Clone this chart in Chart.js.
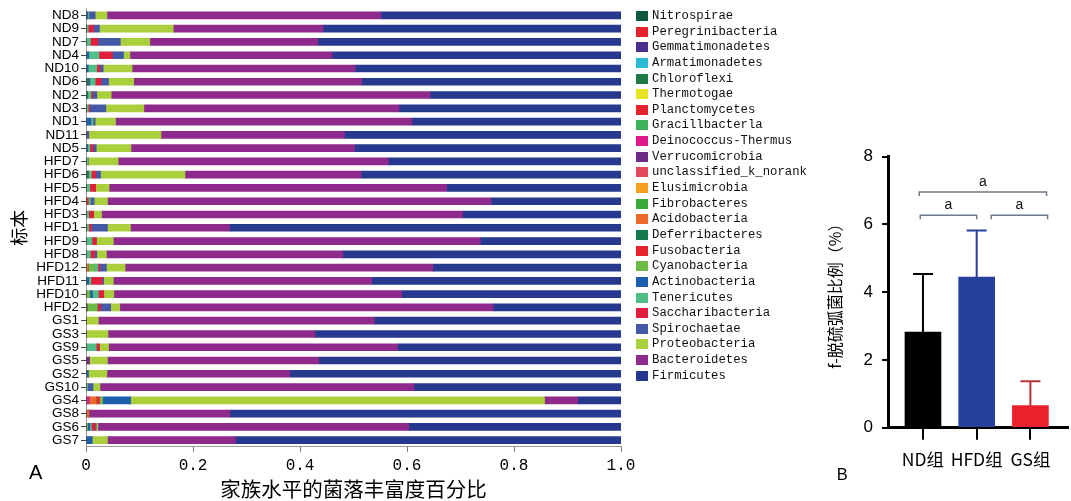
<!DOCTYPE html>
<html>
<head>
<meta charset="utf-8">
<script src="https://cdn.jsdelivr.net/npm/chart.js@4.4.1/dist/chart.umd.min.js"></script>
<style>
  html, body { margin: 0; padding: 0; background: #fff; }
  #wrap { position: relative; width: 1071px; height: 501px; overflow: hidden; background: #fff; }
  #canvasA { position: absolute; left: 0; top: 0; }
  #canvasB { position: absolute; left: 820px; top: 0; }
  #legendA { position: absolute; left: 636px; top: 8.2px; margin: 0; padding: 0; list-style: none;
             font: 12.3px "Liberation Mono", "DejaVu Sans Mono", monospace; color: #111; }
  #legendA li { height: 15.65px; display: flex; align-items: center; white-space: pre; }
  #legendA .sw { display: inline-block; width: 12px; height: 10px; margin-right: 4px; }
  .panel { position: absolute; font-family: "Liberation Sans", Arial, sans-serif; color: #000; margin: 0; }
  #panelA { left: 29px; top: 462.4px; font-size: 20px; line-height: 20px; }
  #panelB { left: 836.7px; top: 466px; font-size: 16.5px; line-height: 16.5px; }
</style>
</head>
<body>
<div id="wrap">
  <canvas id="canvasA" width="820" height="501"></canvas>
  <canvas id="canvasB" width="251" height="501"></canvas>
  <ul id="legendA"></ul>
  <div class="panel" id="panelA">A</div>
  <div class="panel" id="panelB">B</div>
</div>
<script>
// ---------- Panel A: phylum-level relative abundance per sample ----------
const samples = ['ND8','ND9','ND7','ND4','ND10','ND6','ND2','ND3','ND1','ND11','ND5',
  'HFD7','HFD6','HFD5','HFD4','HFD3','HFD1','HFD9','HFD8','HFD12','HFD11','HFD10','HFD2',
  'GS1','GS3','GS9','GS5','GS2','GS10','GS4','GS8','GS6','GS7'];

const phylumNames = ['Nitrospirae','Peregrinibacteria','Gemmatimonadetes','Armatimonadetes',
  'Chloroflexi','Thermotogae','Planctomycetes','Gracillbacterla','Deinococcus-Thermus',
  'Verrucomicrobia','unclassified_k_norank','Elusimicrobia','Fibrobacteres','Acidobacteria',
  'Deferribacteres','Fusobacteria','Cyanobacteria','Actinobacteria','Tenericutes',
  'Saccharibacteria','Spirochaetae','Proteobacteria','Bacteroidetes','Firmicutes'];

const phylumColors = ['#0c5a3b','#e3222b','#4a2f8f','#2bbad3','#1d7a46','#e6e425','#e4242c',
  '#3bb15c','#df1a8b','#6b2b86','#e24a5c','#f3a11f','#3aa93b','#ec6b2b','#11794a','#e6232d',
  '#6dbb46','#1b5ead','#4fbf86','#e11f3c','#4458a8','#a9cf3a','#8f2a8d','#26398e'];

const xTickLabels = ['0','0.2','0.4','0.6','0.8','1.0'];

// one value per sample, in the order of `samples`
const nitrospirae        = [0,0,0,0,0,0,0,0,0,0,0, 0,0,0,0,0,0,0,0,0,0,0,0, 0,0,0,0,0,0,0,0,0,0];
const peregrinibacteria  = [0,0,0,0,0,0,0,0,0,0,0, 0,0,0,0,0,0,0,0,0,0,0,0, 0,0,0,0,0,0,0,0,0,0];
const gemmatimonadetes   = [0,0,0,0,0,0,0,0,0,0,0, 0,0,0,0,0,0,0,0,0,0,0,0, 0,0,0,0,0,0,0,0,0,0];
const armatimonadetes    = [0,0,0,0,0,0,0,0,0,0,0, 0,0,0,0,0,0,0,0,0,0,0,0, 0,0,0,0,0,0,0,0,0,0];
const chloroflexi        = [0,0,0,0,0,0,0,0,0,0,0, 0,0,0,0,0,0,0,0,0,0,0,0, 0,0,0,0,0,0,0,0,0,0];
const thermotogae        = [0,0,0,0,0,0,0,0,0,0,0, 0,0,0,0,0,0,0,0,0,0,0,0, 0,0,0,0,0,0,0,0,0,0];
const planctomycetes     = [0,0,0,0,0,0,0,0,0,0,0, 0,0,0,0,0,0,0,0,0,0,0,0, 0,0,0,0,0,0,0,0,0,0];
const gracillbacterla    = [0,0,0,0,0,0,0,0,0,0,0, 0,0,0,0,0,0,0,0,0,0,0,0, 0,0,0,0,0,0,0,0,0,0];
const deinococcus        = [0,0,0,0,0,0,0,0,0,0,0, 0,0,0,0,0,0,0,0,0,0,0,0, 0,0,0,0,0,0,0.004,0,0,0];
const verrucomicrobia    = [0,0,0,0,0,0,0,0,0,0,0, 0,0,0,0,0,0,0,0,0,0,0,0, 0,0,0,0.006,0,0,0,0,0,0];
const unclassifiedNorank = [0,0,0,0,0,0,0,0,0,0,0, 0,0,0,0,0,0,0,0,0,0,0,0, 0,0,0,0,0,0,0.004,0,0,0];
const elusimicrobia      = [0,0,0,0,0,0,0,0,0,0,0, 0,0,0,0,0,0,0,0,0,0,0,0, 0,0,0,0,0,0,0,0,0,0];
const fibrobacteres      = [0,0,0,0,0,0,0,0,0,0,0, 0,0,0,0,0,0,0,0,0,0,0,0, 0,0,0,0,0,0,0,0,0,0];
const acidobacteria      = [0,0,0,0,0,0,0,0,0,0,0, 0,0,0,0,0,0,0,0,0.004,0,0,0, 0,0,0,0,0,0,0.011,0.005,0,0];
const deferribacteres    = [0,0,0,0,0,0.004,0.003,0,0,0,0, 0,0.004,0,0,0,0,0,0,0,0,0,0.002, 0,0,0,0,0,0,0,0,0,0];
const fusobacteria       = [0,0,0,0,0,0,0,0,0,0,0, 0,0,0,0.004,0,0,0,0,0,0,0,0, 0,0,0,0,0,0,0.006,0,0,0];
const cyanobacteria      = [0,0,0,0,0,0,0,0,0,0,0, 0,0,0,0,0,0,0,0,0.012,0,0.007,0.019, 0,0,0,0,0,0,0.006,0,0.003,0];
const actinobacteria     = [0.003,0,0,0.005,0.004,0.003,0,0,0.009,0,0.003, 0,0,0,0,0,0,0,0,0,0.005,0.005,0,
                            0,0,0,0,0.004,0,0.052,0,0.004,0.011];
const tenericutes        = [0.002,0.004,0.008,0.019,0.016,0.010,0.006,0.004,0.004,0,0.004,
                            0.004,0.006,0.007,0.004,0.005,0.005,0.011,0.008,0.006,0.004,0.011,0,
                            0,0,0.019,0,0,0.003,0,0,0.003,0];
const saccharibacteria   = [0,0.010,0.014,0.025,0.006,0.011,0.003,0.003,0,0,0.006,
                            0,0.008,0.011,0,0.009,0.005,0.008,0.008,0.004,0.021,0.010,0.006,
                            0,0,0.006,0,0,0,0,0,0.007,0];
const spirochaetae       = [0.012,0.011,0.042,0.021,0.006,0.014,0.008,0.030,0.004,0.005,0.006,
                            0,0.009,0,0.007,0,0.030,0,0.004,0.012,0.003,0,0.019,
                            0,0,0,0,0,0.010,0,0,0.002,0];
const proteobacteria     = [0.022,0.138,0.055,0.012,0.054,0.047,0.027,0.071,0.038,0.135,0.065,
                            0.056,0.158,0.025,0.025,0.015,0.043,0.032,0.018,0.035,0.018,0.019,0.017,
                            0.023,0.041,0.017,0.034,0.035,0.013,0.774,0,0.003,0.029];
const bacteroidetes      = [0.512,0.280,0.314,0.378,0.417,0.426,0.596,0.477,0.554,0.343,0.418,
                            0.505,0.329,0.631,0.717,0.675,0.185,0.686,0.442,0.575,0.483,0.538,0.698,
                            0.516,0.387,0.540,0.395,0.342,0.587,0.062,0.264,0.581,0.239];
const firmicutes         = [0.449,0.557,0.567,0.540,0.497,0.485,0.357,0.415,0.391,0.517,0.498,
                            0.435,0.486,0.326,0.243,0.296,0.732,0.263,0.520,0.352,0.466,0.410,0.239,
                            0.461,0.572,0.418,0.565,0.619,0.387,0.081,0.731,0.397,0.721];

const phylumSeries = [nitrospirae, peregrinibacteria, gemmatimonadetes, armatimonadetes,
  chloroflexi, thermotogae, planctomycetes, gracillbacterla, deinococcus, verrucomicrobia,
  unclassifiedNorank, elusimicrobia, fibrobacteres, acidobacteria, deferribacteres, fusobacteria,
  cyanobacteria, actinobacteria, tenericutes, saccharibacteria, spirochaetae, proteobacteria,
  bacteroidetes, firmicutes];

// ---------- Panel B: f-Desulfovibrionaceae proportion by group ----------
const groups = ['ND组', 'HFD组', 'GS组'];
const groupMeans = [2.82, 4.45, 0.65];
const groupSD = [1.72, 1.37, 0.72];
const groupColors = ['#000000', '#24409a', '#e8212b'];
const errorColors = ['#000000', '#2b3f98', '#b9333d'];
const yTicksB = [0, 2, 4, 6, 8];
// significance brackets: [from, to] on the group axis, height in %, and the letter shown
const bracketSpans = [[-0.07, 2.3], [-0.05, 1.0], [1.27, 2.32]];
const bracketLevels = [6.96, 6.27, 6.27];
const bracketLetters = ['a', 'a', 'a'];

Chart.defaults.font.family = '"Liberation Sans", Arial, sans-serif';
Chart.defaults.color = '#000';

// HTML legend built from the chart's own legend items
const htmlLegend = {
  id: 'htmlLegend',
  afterUpdate(chart) {
    const ul = document.getElementById('legendA');
    ul.innerHTML = '';
    const items = chart.options.plugins.legend.labels.generateLabels(chart);
    items.forEach(item => {
      const li = document.createElement('li');
      const sw = document.createElement('span');
      sw.className = 'sw';
      sw.style.background = item.fillStyle;
      li.appendChild(sw);
      li.appendChild(document.createTextNode(item.text));
      ul.appendChild(li);
    });
  }
};

new Chart(document.getElementById('canvasA'), {
  type: 'bar',
  data: {
    labels: samples,
    datasets: phylumNames.map((name, i) => ({
      label: name,
      data: phylumSeries[i],
      backgroundColor: phylumColors[i],
      borderWidth: 0,
      barThickness: 7
    }))
  },
  options: {
    indexAxis: 'y',
    responsive: false,
    animation: false,
    layout: { padding: { left: 4, top: 8.4, right: 199, bottom: 0 } },
    plugins: { legend: { display: false }, tooltip: { enabled: false } },
    scales: {
      x: {
        stacked: true, min: 0, max: 1,
        ticks: {
          stepSize: 0.2, padding: 4, color: '#000', maxRotation: 0,
          font: { size: 16, family: '"Liberation Mono", monospace' },
          callback: (v, i) => xTickLabels[i]
        },
        grid: { drawOnChartArea: false, tickLength: 5, color: '#777' },
        border: { color: '#9a9a9a', width: 1 },
        title: { display: true, text: '家族水平的菌落丰富度百分比', color: '#000',
                 font: { size: 20.5, lineHeight: 1, family: '"Noto Sans CJK SC", sans-serif' },
                 padding: { top: 0, bottom: 1.5 } }
      },
      y: {
        stacked: true,
        ticks: { padding: 2, color: '#000', autoSkip: false, font: { size: 13.5, lineHeight: 1 } },
        grid: { drawOnChartArea: false, offset: false, tickLength: 5, color: '#444' },
        border: { color: '#9a9a9a', width: 1 },
        title: { display: true, text: '标本', color: '#000',
                 font: { size: 18, family: '"Noto Sans CJK SC", sans-serif' }, padding: { top: 4.2, bottom: 4.5 } }
      }
    }
  },
  plugins: [htmlLegend]
});

const errorBars = {
  id: 'errorBars',
  afterDatasetsDraw(chart) {
    const ctx = chart.ctx, ys = chart.scales.y;
    chart.getDatasetMeta(0).data.forEach((bar, i) => {
      const top = ys.getPixelForValue(groupMeans[i] + groupSD[i]);
      ctx.save();
      ctx.strokeStyle = errorColors[i];
      ctx.lineWidth = 2;
      ctx.beginPath();
      ctx.moveTo(bar.x, bar.y);
      ctx.lineTo(bar.x, top);
      ctx.moveTo(bar.x - 10, top);
      ctx.lineTo(bar.x + 10, top);
      ctx.stroke();
      ctx.restore();
    });
  }
};

const brackets = {
  id: 'brackets',
  afterDraw(chart) {
    const ctx = chart.ctx, xs = chart.scales.x, ys = chart.scales.y;
    ctx.save();
    bracketSpans.forEach((span, i) => {
      const x1 = xs.getPixelForValue(span[0]);
      const x2 = xs.getPixelForValue(span[1]);
      const y = ys.getPixelForValue(bracketLevels[i]);
      ctx.strokeStyle = '#6d7a88';
      ctx.lineWidth = 1.5;
      ctx.beginPath();
      ctx.moveTo(x1, y + 4); ctx.lineTo(x1, y); ctx.lineTo(x2, y); ctx.lineTo(x2, y + 4);
      ctx.stroke();
      ctx.fillStyle = '#111';
      ctx.font = '14px "Liberation Sans", Arial, sans-serif';
      ctx.textAlign = 'center';
      ctx.textBaseline = 'alphabetic';
      ctx.fillText(bracketLetters[i], (x1 + x2) / 2, y - 6);
    });
    ctx.restore();
  }
};

new Chart(document.getElementById('canvasB'), {
  type: 'bar',
  data: {
    datasets: [{
      data: groupMeans.map((m, i) => ({ x: i, y: m })),
      backgroundColor: groupColors,
      borderWidth: 0,
      barThickness: 36
    }]
  },
  options: {
    responsive: false,
    animation: false,
    layout: { padding: { left: 5.4, top: 156.7, right: 3, bottom: 22.3 } },
    plugins: { legend: { display: false }, tooltip: { enabled: false } },
    scales: {
      x: {
        type: 'linear', min: -0.65, max: 2.7, offset: false,
        afterBuildTicks: s => { s.ticks = groups.map((g, i) => ({ value: i })); },
        ticks: { padding: 9, color: '#000', autoSkip: false, maxRotation: 0, minRotation: 0,
                 font: { size: 17.5, family: '"Noto Sans CJK SC", sans-serif' },
                 callback: v => groups[v] },
        grid: { drawOnChartArea: false, offset: false, tickLength: 12, lineWidth: 2, color: '#000' },
        border: { color: '#000', width: 3 }
      },
      y: {
        min: 0, max: 8,
        afterBuildTicks: s => { s.ticks = yTicksB.map(v => ({ value: v })); },
        ticks: { padding: 9, color: '#000', font: { size: 17 } },
        grid: { drawOnChartArea: false, tickLength: 6, lineWidth: 2, color: '#000' },
        border: { color: '#000', width: 3 },
        title: { display: true, text: 'f-脱硫弧菌比例（%）', color: '#000',
                 font: { size: 16, family: '"Noto Sans CJK SC", sans-serif' }, padding: { top: 0, bottom: 10 } }
      }
    }
  },
  plugins: [errorBars, brackets]
});
</script>
</body>
</html>
